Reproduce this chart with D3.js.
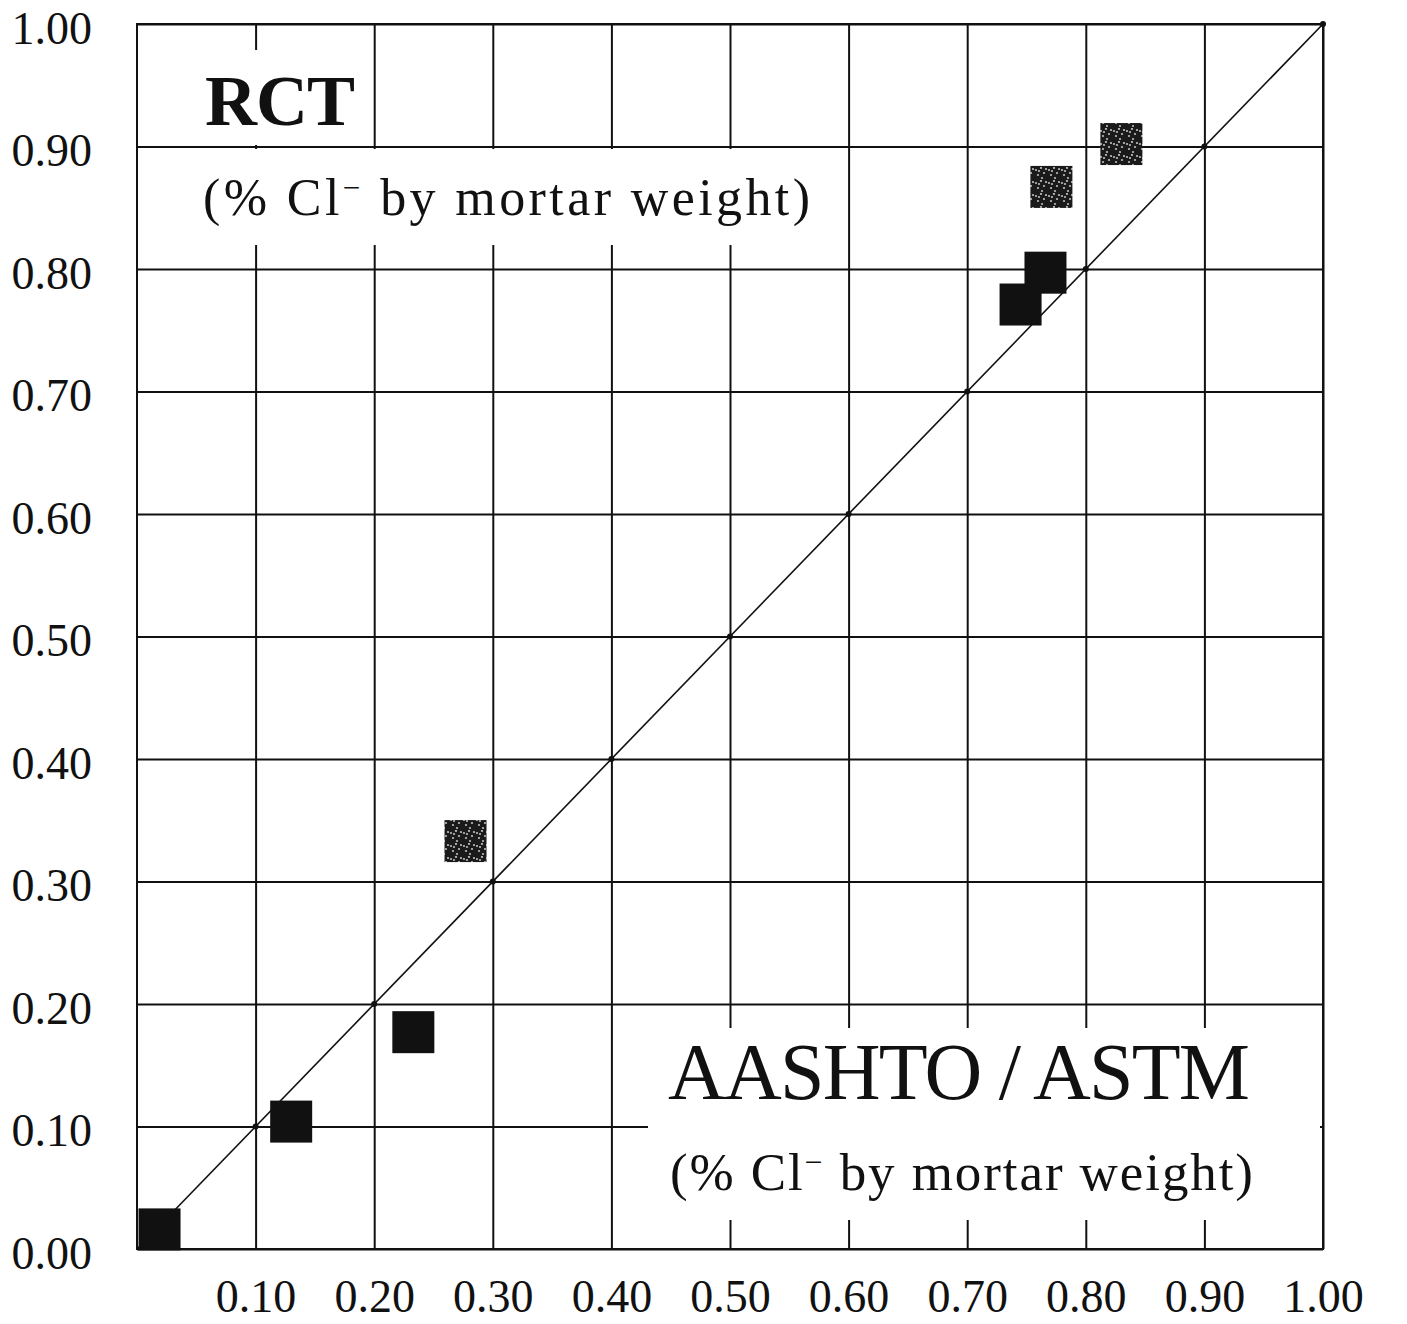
<!DOCTYPE html>
<html lang="en">
<head>
<meta charset="utf-8">
<script src="https://d3js.org/d3.v7.min.js"></script>
<style>
  body { margin: 0; background: #fff; }
  text { font-family: "Liberation Serif", "DejaVu Serif", serif; fill: #111; }
  .grid line { stroke: #111; stroke-width: 2; }
  .grid path { display: none; }
  .labels path { display: none; }
</style>
</head>
<body>
<div id="chart"></div>
<script>
// values (% Cl- by mortar weight)
var xTicks = [0.1, 0.2, 0.3, 0.4, 0.5, 0.6, 0.7, 0.8, 0.9, 1.0];
var yTicks = [0, 0.1, 0.2, 0.3, 0.4, 0.5, 0.6, 0.7, 0.8, 0.9, 1.0];
var aashto = [0.019, 0.130, 0.233, 0.277, 0.745, 0.766, 0.771, 0.830];
var rct    = [0.016, 0.104, 0.177, 0.333, 0.771, 0.797, 0.867, 0.902];
var group  = ["A", "A", "A", "B", "A", "A", "B", "B"];

var margin = { top: 24, right: 84, bottom: 75, left: 137 },
    width = 1407 - margin.left - margin.right,
    height = 1324 - margin.top - margin.bottom;

var svgRoot = d3.select("#chart").append("svg")
    .attr("width", 1407)
    .attr("height", 1324);

// speckled texture for the grey squares
var defs = svgRoot.append("defs");
var pat = defs.append("pattern")
    .attr("id", "speckle")
    .attr("patternUnits", "userSpaceOnUse")
    .attr("width", 13).attr("height", 13);
pat.append("rect").attr("width", 13).attr("height", 13).attr("fill", "#1a1a1a");
[[2, 3], [7, 1], [10, 6], [4, 8], [8, 11], [12, 2], [5, 4]].forEach(function (p) {
    pat.append("circle").attr("cx", p[0]).attr("cy", p[1]).attr("r", 1.1).attr("fill", "#bbb");
});

var svg = svgRoot.append("g")
    .attr("transform", "translate(" + margin.left + "," + margin.top + ")");

var x = d3.scaleLinear().domain([0, 1]).range([0, width]);
var y = d3.scaleLinear().domain([0, 1]).range([height, 0]);

// grid lines
svg.append("g").attr("class", "grid")
    .attr("transform", "translate(0," + height + ")")
    .call(d3.axisBottom(x).tickValues(xTicks).tickSize(-height).tickFormat(""));
svg.append("g").attr("class", "grid")
    .call(d3.axisLeft(y).tickValues(yTicks).tickSize(-width).tickFormat(""));

// white boxes behind the titles (they cut the grid)
var boxes = [
    { x0: 183, y0: 50, x1: 372, y1: 145 },
    { x0: 140, y0: 149, x1: 822, y1: 245 },
    { x0: 648, y0: 1028, x1: 1320, y1: 1220 }
];
svgRoot.selectAll("rect.box").data(boxes).join("rect")
    .attr("class", "box")
    .attr("x", d => d.x0).attr("y", d => d.y0)
    .attr("width", d => d.x1 - d.x0).attr("height", d => d.y1 - d.y0)
    .attr("fill", "#fff");

// frame
svg.append("rect")
    .attr("width", width).attr("height", height)
    .attr("fill", "none").attr("stroke", "#111").attr("stroke-width", 2);

// 1:1 line
svg.append("line")
    .attr("x1", x(0)).attr("y1", y(0))
    .attr("x2", x(1)).attr("y2", y(1))
    .attr("stroke", "#111").attr("stroke-width", 1.6);

svg.selectAll("circle.knot").data(xTicks).join("circle")
    .attr("class", "knot")
    .attr("cx", d => x(d)).attr("cy", d => y(d))
    .attr("r", 3).attr("fill", "#111");

// data squares
var side = 42;
svg.selectAll("rect.pt").data(aashto).join("rect")
    .attr("class", "pt")
    .attr("x", d => x(d) - side / 2)
    .attr("y", (d, i) => y(rct[i]) - side / 2)
    .attr("width", side).attr("height", side)
    .attr("fill", (d, i) => group[i] === "B" ? "url(#speckle)" : "#111");

// tick labels
var yl = svg.append("g").attr("class", "labels")
    .call(d3.axisLeft(y).tickValues(yTicks).tickSize(0).tickPadding(45).tickFormat(d3.format(".2f")));
yl.selectAll("text").style("font-size", "46px").attr("dy", "0.42em").attr("fill", "#111");

var xl = svg.append("g").attr("class", "labels")
    .attr("transform", "translate(0," + height + ")")
    .call(d3.axisBottom(x).tickValues(xTicks).tickSize(0).tickPadding(30).tickFormat(d3.format(".2f")));
xl.selectAll("text").style("font-size", "46px").attr("fill", "#111");

// titles
function title(tx, ty, size, len, weight, main, rest) {
    var t = svgRoot.append("text")
        .attr("x", tx).attr("y", ty)
        .style("font-size", size + "px")
        .style("font-weight", weight);
    if (rest === undefined) {
        t.text(main);
    } else {
        t.append("tspan").text(main);
        t.append("tspan").attr("dy", -size * 0.32).style("font-size", (size * 0.6) + "px").text("\u2212");
        t.append("tspan").attr("dy", size * 0.32).text(rest);
    }
    t.attr("textLength", len).attr("lengthAdjust", "spacing");
}
title(205, 125, 72, 150, "bold", "RCT");
title(203, 215, 52, 607, "normal", "(% Cl", "  by mortar weight)");
title(668, 1099, 80, 582, "normal", "AASHTO / ASTM");
title(670, 1190, 53, 583, "normal", "(% Cl", " by mortar weight)");
</script>
</body>
</html>
